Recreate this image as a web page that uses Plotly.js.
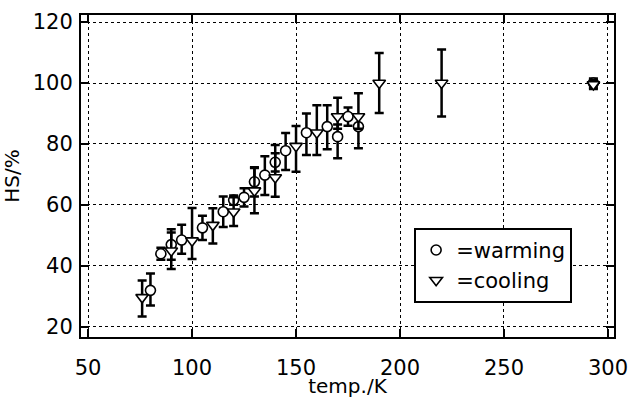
<!DOCTYPE html>
<html><head><meta charset="utf-8">
<script src="https://cdn.plot.ly/plotly-3.0.1.min.js"></script>
<style>html,body{margin:0;padding:0;background:#fff;}#chart{width:633px;height:398px;}</style>
</head><body><div id="chart"></div>
<script>
// warming (circles)
var warmT    = [80, 85, 90, 95, 105, 115, 120, 125, 130, 135, 140, 145, 155, 165, 170, 175, 180, 293];
var warmHS   = [32, 44, 47, 48.5, 52.5, 57.8, 61.6, 62.5, 67.6, 69.8, 74, 77.8, 83.7, 85.7, 82.4, 89, 85.7, 100];
var warmErrP = [5.5, 2, 5, 5, 4, 5, 1.5, 3, 4.8, 6.2, 3, 5.8, 6.3, 7, 4, 3, 4, 1.5];
var warmErrM = [5, 2, 5, 4.5, 4, 5, 1.5, 3, 4.8, 6.5, 3, 6.3, 7.3, 7.4, 7.1, 3, 7.1, 1.5];
// cooling (down triangles)
var coolT    = [76, 90, 100, 110, 120, 130, 140, 150, 160, 170, 180, 190, 220, 293];
var coolHS   = [29.7, 45, 48.3, 53.4, 57.8, 64.7, 69, 79.3, 83.7, 89, 89, 100, 100, 99.5];
var coolErrP = [5.5, 6, 10.7, 5.5, 4.7, 7.4, 10.7, 6.6, 9, 6.2, 7.6, 9.8, 11, 1.5];
var coolErrM = [6.3, 6, 6, 6, 4.7, 7.4, 6.3, 8.4, 7.3, 4, 4, 9.8, 11, 1.5];
var xTicks = [50, 100, 150, 200, 250, 300];
var yTicks = [20, 40, 60, 80, 100, 120];

var errStyle = {color:'#000', thickness:2.5, width:4.5};
var traces = [
  {x: warmT, y: warmHS, type:'scatter', mode:'markers', name:'=warming',
   error_y: Object.assign({type:'data', symmetric:false, array: warmErrP, arrayminus: warmErrM}, errStyle),
   marker:{symbol:'circle', size:10, color:'#fff', line:{color:'#000', width:1.6}}},
  {x: coolT, y: coolHS, type:'scatter', mode:'markers', name:'=cooling',
   error_y: Object.assign({type:'data', symmetric:false, array: coolErrP, arrayminus: coolErrM}, errStyle),
   marker:{symbol:'triangle-down', size:11, color:'#fff', line:{color:'#000', width:1.6}}}
];
var axisCommon = {
  showline:true, linecolor:'#000', linewidth:2, mirror:'ticks',
  ticks:'inside', ticklen:8, tickwidth:2, tickcolor:'#000',
  showgrid:true, gridcolor:'#000', gridwidth:1, griddash:'dot',
  zeroline:false, tickfont:{family:'DejaVu Sans, sans-serif', size:21, color:'#000'}
};
var layout = {
  width:633, height:398,
  margin:{l:81, r:19, t:15, b:61},
  paper_bgcolor:'#fff', plot_bgcolor:'#fff',
  font:{family:'DejaVu Sans, sans-serif', size:21, color:'#000'},
  showlegend:true,
  legend:{x:0.625, y:0.339, xanchor:'left', yanchor:'top', bgcolor:'#fff',
          bordercolor:'#000', borderwidth:2, font:{size:21, color:'#000'}},
  xaxis: Object.assign({}, axisCommon, {range:[46.6, 302.9], tickvals:xTicks, ticklabelstandoff:11,
          title:{text:'temp./K', font:{size:20}, standoff:7}}),
  yaxis: Object.assign({}, axisCommon, {range:[16.7, 122.3], tickvals:yTicks, ticklabelstandoff:2,
          title:{text:'HS/%', font:{size:20}, standoff:8}})
};
Plotly.newPlot('chart', traces, layout, {displayModeBar:false, staticPlot:true});
</script></body></html>
